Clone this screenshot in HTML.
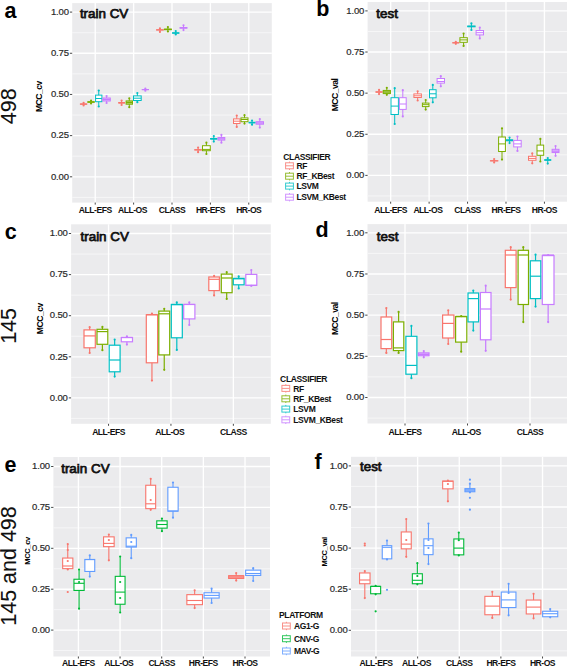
<!DOCTYPE html><html><head><meta charset="utf-8"><style>
html,body{margin:0;padding:0;background:#fff;width:567px;height:667px;overflow:hidden}
svg{display:block;font-family:"Liberation Sans", sans-serif}
.tl{font-size:9.5px;fill:#2a2a2a;stroke:#2a2a2a;stroke-width:0.2px;letter-spacing:-0.15px;text-anchor:end}
.xl{font-size:8.6px;font-weight:bold;fill:#111;letter-spacing:-0.5px;text-anchor:middle}
.ttl{font-size:13.4px;fill:#111;stroke:#111;stroke-width:0.75px}
.let{font-size:21.5px;font-weight:bold;fill:#000}
.row{font-size:21.5px;fill:#111;stroke:#111;stroke-width:0.1px}
.yt{font-size:8.6px;font-weight:bold;fill:#000;letter-spacing:-0.5px;text-anchor:middle}
.yt2{font-size:7.6px;font-weight:bold;fill:#000;letter-spacing:-0.4px;text-anchor:middle}
.lgt{font-size:8.5px;font-weight:bold;fill:#111;letter-spacing:-0.35px}
.lgx{font-size:8.5px;font-weight:bold;fill:#111;letter-spacing:-0.35px}
</style></head><body>
<svg width="567" height="667" viewBox="0 0 567 667">
<rect x="72.2" y="3.1" width="199.6" height="199.5" fill="#EBEBED"/>
<line x1="72.2" x2="271.8" y1="197.39" y2="197.39" stroke="#F6F6F7" stroke-width="1.0"/>
<line x1="72.2" x2="271.8" y1="156.21" y2="156.21" stroke="#F6F6F7" stroke-width="1.0"/>
<line x1="72.2" x2="271.8" y1="115.04" y2="115.04" stroke="#F6F6F7" stroke-width="1.0"/>
<line x1="72.2" x2="271.8" y1="73.86" y2="73.86" stroke="#F6F6F7" stroke-width="1.0"/>
<line x1="72.2" x2="271.8" y1="32.69" y2="32.69" stroke="#F6F6F7" stroke-width="1.0"/>
<line x1="72.2" x2="271.8" y1="176.8" y2="176.8" stroke="#FFFFFF" stroke-width="1.35"/>
<line x1="72.2" x2="271.8" y1="135.62" y2="135.62" stroke="#FFFFFF" stroke-width="1.35"/>
<line x1="72.2" x2="271.8" y1="94.45" y2="94.45" stroke="#FFFFFF" stroke-width="1.35"/>
<line x1="72.2" x2="271.8" y1="53.28" y2="53.28" stroke="#FFFFFF" stroke-width="1.35"/>
<line x1="72.2" x2="271.8" y1="12.1" y2="12.1" stroke="#FFFFFF" stroke-width="1.35"/>
<line x1="95.23" x2="95.23" y1="3.1" y2="202.6" stroke="#FFFFFF" stroke-width="1.35"/>
<line x1="133.62" x2="133.62" y1="3.1" y2="202.6" stroke="#FFFFFF" stroke-width="1.35"/>
<line x1="172" x2="172" y1="3.1" y2="202.6" stroke="#FFFFFF" stroke-width="1.35"/>
<line x1="210.38" x2="210.38" y1="3.1" y2="202.6" stroke="#FFFFFF" stroke-width="1.35"/>
<line x1="248.77" x2="248.77" y1="3.1" y2="202.6" stroke="#FFFFFF" stroke-width="1.35"/>
<line x1="69.9" x2="72.2" y1="176.8" y2="176.8" stroke="#333" stroke-width="0.9"/>
<text x="68.8" y="179.5" class="tl">0.00</text>
<line x1="69.9" x2="72.2" y1="135.62" y2="135.62" stroke="#333" stroke-width="0.9"/>
<text x="68.8" y="138.32" class="tl">0.25</text>
<line x1="69.9" x2="72.2" y1="94.45" y2="94.45" stroke="#333" stroke-width="0.9"/>
<text x="68.8" y="97.15" class="tl">0.50</text>
<line x1="69.9" x2="72.2" y1="53.28" y2="53.28" stroke="#333" stroke-width="0.9"/>
<text x="68.8" y="55.98" class="tl">0.75</text>
<line x1="69.9" x2="72.2" y1="12.1" y2="12.1" stroke="#333" stroke-width="0.9"/>
<text x="68.8" y="14.8" class="tl">1.00</text>
<line x1="95.23" x2="95.23" y1="202.6" y2="204.6" stroke="#333" stroke-width="0.9"/>
<text x="95.23" y="212.9" class="xl">ALL-EFS</text>
<line x1="133.62" x2="133.62" y1="202.6" y2="204.6" stroke="#333" stroke-width="0.9"/>
<text x="132.42" y="212.9" class="xl">ALL-OS</text>
<line x1="172" x2="172" y1="202.6" y2="204.6" stroke="#333" stroke-width="0.9"/>
<text x="172" y="212.9" class="xl">CLASS</text>
<line x1="210.38" x2="210.38" y1="202.6" y2="204.6" stroke="#333" stroke-width="0.9"/>
<text x="210.38" y="212.9" class="xl">HR-EFS</text>
<line x1="248.77" x2="248.77" y1="202.6" y2="204.6" stroke="#333" stroke-width="0.9"/>
<text x="248.77" y="212.9" class="xl">HR-OS</text>
<rect x="367.6" y="2" width="199.9" height="199.7" fill="#EBEBED"/>
<line x1="367.6" x2="567.5" y1="195.96" y2="195.96" stroke="#F6F6F7" stroke-width="1.0"/>
<line x1="367.6" x2="567.5" y1="154.84" y2="154.84" stroke="#F6F6F7" stroke-width="1.0"/>
<line x1="367.6" x2="567.5" y1="113.71" y2="113.71" stroke="#F6F6F7" stroke-width="1.0"/>
<line x1="367.6" x2="567.5" y1="72.59" y2="72.59" stroke="#F6F6F7" stroke-width="1.0"/>
<line x1="367.6" x2="567.5" y1="31.46" y2="31.46" stroke="#F6F6F7" stroke-width="1.0"/>
<line x1="367.6" x2="567.5" y1="175.4" y2="175.4" stroke="#FFFFFF" stroke-width="1.35"/>
<line x1="367.6" x2="567.5" y1="134.28" y2="134.28" stroke="#FFFFFF" stroke-width="1.35"/>
<line x1="367.6" x2="567.5" y1="93.15" y2="93.15" stroke="#FFFFFF" stroke-width="1.35"/>
<line x1="367.6" x2="567.5" y1="52.03" y2="52.03" stroke="#FFFFFF" stroke-width="1.35"/>
<line x1="367.6" x2="567.5" y1="10.9" y2="10.9" stroke="#FFFFFF" stroke-width="1.35"/>
<line x1="390.67" x2="390.67" y1="2" y2="201.7" stroke="#FFFFFF" stroke-width="1.35"/>
<line x1="429.11" x2="429.11" y1="2" y2="201.7" stroke="#FFFFFF" stroke-width="1.35"/>
<line x1="467.55" x2="467.55" y1="2" y2="201.7" stroke="#FFFFFF" stroke-width="1.35"/>
<line x1="505.99" x2="505.99" y1="2" y2="201.7" stroke="#FFFFFF" stroke-width="1.35"/>
<line x1="544.43" x2="544.43" y1="2" y2="201.7" stroke="#FFFFFF" stroke-width="1.35"/>
<line x1="365.3" x2="367.6" y1="175.4" y2="175.4" stroke="#333" stroke-width="0.9"/>
<text x="364.2" y="178.1" class="tl">0.00</text>
<line x1="365.3" x2="367.6" y1="134.28" y2="134.28" stroke="#333" stroke-width="0.9"/>
<text x="364.2" y="136.97" class="tl">0.25</text>
<line x1="365.3" x2="367.6" y1="93.15" y2="93.15" stroke="#333" stroke-width="0.9"/>
<text x="364.2" y="95.85" class="tl">0.50</text>
<line x1="365.3" x2="367.6" y1="52.03" y2="52.03" stroke="#333" stroke-width="0.9"/>
<text x="364.2" y="54.73" class="tl">0.75</text>
<line x1="365.3" x2="367.6" y1="10.9" y2="10.9" stroke="#333" stroke-width="0.9"/>
<text x="364.2" y="13.6" class="tl">1.00</text>
<line x1="390.67" x2="390.67" y1="201.7" y2="203.7" stroke="#333" stroke-width="0.9"/>
<text x="390.67" y="212.9" class="xl">ALL-EFS</text>
<line x1="429.11" x2="429.11" y1="201.7" y2="203.7" stroke="#333" stroke-width="0.9"/>
<text x="427.91" y="212.9" class="xl">ALL-OS</text>
<line x1="467.55" x2="467.55" y1="201.7" y2="203.7" stroke="#333" stroke-width="0.9"/>
<text x="467.55" y="212.9" class="xl">CLASS</text>
<line x1="505.99" x2="505.99" y1="201.7" y2="203.7" stroke="#333" stroke-width="0.9"/>
<text x="505.99" y="212.9" class="xl">HR-EFS</text>
<line x1="544.43" x2="544.43" y1="201.7" y2="203.7" stroke="#333" stroke-width="0.9"/>
<text x="544.43" y="212.9" class="xl">HR-OS</text>
<rect x="71.1" y="224.3" width="199.7" height="199.5" fill="#EBEBED"/>
<line x1="71.1" x2="270.8" y1="418.45" y2="418.45" stroke="#F6F6F7" stroke-width="1.0"/>
<line x1="71.1" x2="270.8" y1="377.35" y2="377.35" stroke="#F6F6F7" stroke-width="1.0"/>
<line x1="71.1" x2="270.8" y1="336.25" y2="336.25" stroke="#F6F6F7" stroke-width="1.0"/>
<line x1="71.1" x2="270.8" y1="295.15" y2="295.15" stroke="#F6F6F7" stroke-width="1.0"/>
<line x1="71.1" x2="270.8" y1="254.05" y2="254.05" stroke="#F6F6F7" stroke-width="1.0"/>
<line x1="71.1" x2="270.8" y1="397.9" y2="397.9" stroke="#FFFFFF" stroke-width="1.35"/>
<line x1="71.1" x2="270.8" y1="356.8" y2="356.8" stroke="#FFFFFF" stroke-width="1.35"/>
<line x1="71.1" x2="270.8" y1="315.7" y2="315.7" stroke="#FFFFFF" stroke-width="1.35"/>
<line x1="71.1" x2="270.8" y1="274.6" y2="274.6" stroke="#FFFFFF" stroke-width="1.35"/>
<line x1="71.1" x2="270.8" y1="233.5" y2="233.5" stroke="#FFFFFF" stroke-width="1.35"/>
<line x1="108.54" x2="108.54" y1="224.3" y2="423.8" stroke="#FFFFFF" stroke-width="1.35"/>
<line x1="170.95" x2="170.95" y1="224.3" y2="423.8" stroke="#FFFFFF" stroke-width="1.35"/>
<line x1="233.36" x2="233.36" y1="224.3" y2="423.8" stroke="#FFFFFF" stroke-width="1.35"/>
<line x1="68.8" x2="71.1" y1="397.9" y2="397.9" stroke="#333" stroke-width="0.9"/>
<text x="67.7" y="400.6" class="tl">0.00</text>
<line x1="68.8" x2="71.1" y1="356.8" y2="356.8" stroke="#333" stroke-width="0.9"/>
<text x="67.7" y="359.5" class="tl">0.25</text>
<line x1="68.8" x2="71.1" y1="315.7" y2="315.7" stroke="#333" stroke-width="0.9"/>
<text x="67.7" y="318.4" class="tl">0.50</text>
<line x1="68.8" x2="71.1" y1="274.6" y2="274.6" stroke="#333" stroke-width="0.9"/>
<text x="67.7" y="277.3" class="tl">0.75</text>
<line x1="68.8" x2="71.1" y1="233.5" y2="233.5" stroke="#333" stroke-width="0.9"/>
<text x="67.7" y="236.2" class="tl">1.00</text>
<line x1="108.54" x2="108.54" y1="423.8" y2="425.8" stroke="#333" stroke-width="0.9"/>
<text x="108.54" y="435.2" class="xl">ALL-EFS</text>
<line x1="170.95" x2="170.95" y1="423.8" y2="425.8" stroke="#333" stroke-width="0.9"/>
<text x="169.75" y="435.2" class="xl">ALL-OS</text>
<line x1="233.36" x2="233.36" y1="423.8" y2="425.8" stroke="#333" stroke-width="0.9"/>
<text x="233.36" y="435.2" class="xl">CLASS</text>
<rect x="367.5" y="224.1" width="200" height="199.4" fill="#EBEBED"/>
<line x1="367.5" x2="567.5" y1="418.09" y2="418.09" stroke="#F6F6F7" stroke-width="1.0"/>
<line x1="367.5" x2="567.5" y1="376.91" y2="376.91" stroke="#F6F6F7" stroke-width="1.0"/>
<line x1="367.5" x2="567.5" y1="335.74" y2="335.74" stroke="#F6F6F7" stroke-width="1.0"/>
<line x1="367.5" x2="567.5" y1="294.56" y2="294.56" stroke="#F6F6F7" stroke-width="1.0"/>
<line x1="367.5" x2="567.5" y1="253.39" y2="253.39" stroke="#F6F6F7" stroke-width="1.0"/>
<line x1="367.5" x2="567.5" y1="397.5" y2="397.5" stroke="#FFFFFF" stroke-width="1.35"/>
<line x1="367.5" x2="567.5" y1="356.32" y2="356.32" stroke="#FFFFFF" stroke-width="1.35"/>
<line x1="367.5" x2="567.5" y1="315.15" y2="315.15" stroke="#FFFFFF" stroke-width="1.35"/>
<line x1="367.5" x2="567.5" y1="273.98" y2="273.98" stroke="#FFFFFF" stroke-width="1.35"/>
<line x1="367.5" x2="567.5" y1="232.8" y2="232.8" stroke="#FFFFFF" stroke-width="1.35"/>
<line x1="405" x2="405" y1="224.1" y2="423.5" stroke="#FFFFFF" stroke-width="1.35"/>
<line x1="467.5" x2="467.5" y1="224.1" y2="423.5" stroke="#FFFFFF" stroke-width="1.35"/>
<line x1="530" x2="530" y1="224.1" y2="423.5" stroke="#FFFFFF" stroke-width="1.35"/>
<line x1="365.2" x2="367.5" y1="397.5" y2="397.5" stroke="#333" stroke-width="0.9"/>
<text x="364.1" y="400.2" class="tl">0.00</text>
<line x1="365.2" x2="367.5" y1="356.32" y2="356.32" stroke="#333" stroke-width="0.9"/>
<text x="364.1" y="359.02" class="tl">0.25</text>
<line x1="365.2" x2="367.5" y1="315.15" y2="315.15" stroke="#333" stroke-width="0.9"/>
<text x="364.1" y="317.85" class="tl">0.50</text>
<line x1="365.2" x2="367.5" y1="273.98" y2="273.98" stroke="#333" stroke-width="0.9"/>
<text x="364.1" y="276.68" class="tl">0.75</text>
<line x1="365.2" x2="367.5" y1="232.8" y2="232.8" stroke="#333" stroke-width="0.9"/>
<text x="364.1" y="235.5" class="tl">1.00</text>
<line x1="405" x2="405" y1="423.5" y2="425.5" stroke="#333" stroke-width="0.9"/>
<text x="405" y="435.2" class="xl">ALL-EFS</text>
<line x1="467.5" x2="467.5" y1="423.5" y2="425.5" stroke="#333" stroke-width="0.9"/>
<text x="466.3" y="435.2" class="xl">ALL-OS</text>
<line x1="530" x2="530" y1="423.5" y2="425.5" stroke="#333" stroke-width="0.9"/>
<text x="530" y="435.2" class="xl">CLASS</text>
<rect x="53.4" y="457" width="216.6" height="199.5" fill="#EBEBED"/>
<line x1="53.4" x2="270" y1="650.55" y2="650.55" stroke="#F6F6F7" stroke-width="1.0"/>
<line x1="53.4" x2="270" y1="609.65" y2="609.65" stroke="#F6F6F7" stroke-width="1.0"/>
<line x1="53.4" x2="270" y1="568.75" y2="568.75" stroke="#F6F6F7" stroke-width="1.0"/>
<line x1="53.4" x2="270" y1="527.85" y2="527.85" stroke="#F6F6F7" stroke-width="1.0"/>
<line x1="53.4" x2="270" y1="486.95" y2="486.95" stroke="#F6F6F7" stroke-width="1.0"/>
<line x1="53.4" x2="270" y1="630.1" y2="630.1" stroke="#FFFFFF" stroke-width="1.35"/>
<line x1="53.4" x2="270" y1="589.2" y2="589.2" stroke="#FFFFFF" stroke-width="1.35"/>
<line x1="53.4" x2="270" y1="548.3" y2="548.3" stroke="#FFFFFF" stroke-width="1.35"/>
<line x1="53.4" x2="270" y1="507.4" y2="507.4" stroke="#FFFFFF" stroke-width="1.35"/>
<line x1="53.4" x2="270" y1="466.5" y2="466.5" stroke="#FFFFFF" stroke-width="1.35"/>
<line x1="78.39" x2="78.39" y1="457" y2="656.5" stroke="#FFFFFF" stroke-width="1.35"/>
<line x1="120.05" x2="120.05" y1="457" y2="656.5" stroke="#FFFFFF" stroke-width="1.35"/>
<line x1="161.7" x2="161.7" y1="457" y2="656.5" stroke="#FFFFFF" stroke-width="1.35"/>
<line x1="203.35" x2="203.35" y1="457" y2="656.5" stroke="#FFFFFF" stroke-width="1.35"/>
<line x1="245.01" x2="245.01" y1="457" y2="656.5" stroke="#FFFFFF" stroke-width="1.35"/>
<line x1="51.1" x2="53.4" y1="630.1" y2="630.1" stroke="#333" stroke-width="0.9"/>
<text x="50" y="632.8" class="tl">0.00</text>
<line x1="51.1" x2="53.4" y1="589.2" y2="589.2" stroke="#333" stroke-width="0.9"/>
<text x="50" y="591.9" class="tl">0.25</text>
<line x1="51.1" x2="53.4" y1="548.3" y2="548.3" stroke="#333" stroke-width="0.9"/>
<text x="50" y="551" class="tl">0.50</text>
<line x1="51.1" x2="53.4" y1="507.4" y2="507.4" stroke="#333" stroke-width="0.9"/>
<text x="50" y="510.1" class="tl">0.75</text>
<line x1="51.1" x2="53.4" y1="466.5" y2="466.5" stroke="#333" stroke-width="0.9"/>
<text x="50" y="469.2" class="tl">1.00</text>
<line x1="78.39" x2="78.39" y1="656.5" y2="658.5" stroke="#333" stroke-width="0.9"/>
<text x="78.39" y="666.2" class="xl">ALL-EFS</text>
<line x1="120.05" x2="120.05" y1="656.5" y2="658.5" stroke="#333" stroke-width="0.9"/>
<text x="118.85" y="666.2" class="xl">ALL-OS</text>
<line x1="161.7" x2="161.7" y1="656.5" y2="658.5" stroke="#333" stroke-width="0.9"/>
<text x="161.7" y="666.2" class="xl">CLASS</text>
<line x1="203.35" x2="203.35" y1="656.5" y2="658.5" stroke="#333" stroke-width="0.9"/>
<text x="203.35" y="666.2" class="xl">HR-EFS</text>
<line x1="245.01" x2="245.01" y1="656.5" y2="658.5" stroke="#333" stroke-width="0.9"/>
<text x="245.01" y="666.2" class="xl">HR-OS</text>
<rect x="351" y="456.8" width="216.5" height="199.7" fill="#EBEBED"/>
<line x1="351" x2="567.5" y1="650.85" y2="650.85" stroke="#F6F6F7" stroke-width="1.0"/>
<line x1="351" x2="567.5" y1="609.75" y2="609.75" stroke="#F6F6F7" stroke-width="1.0"/>
<line x1="351" x2="567.5" y1="568.65" y2="568.65" stroke="#F6F6F7" stroke-width="1.0"/>
<line x1="351" x2="567.5" y1="527.55" y2="527.55" stroke="#F6F6F7" stroke-width="1.0"/>
<line x1="351" x2="567.5" y1="486.45" y2="486.45" stroke="#F6F6F7" stroke-width="1.0"/>
<line x1="351" x2="567.5" y1="630.3" y2="630.3" stroke="#FFFFFF" stroke-width="1.35"/>
<line x1="351" x2="567.5" y1="589.2" y2="589.2" stroke="#FFFFFF" stroke-width="1.35"/>
<line x1="351" x2="567.5" y1="548.1" y2="548.1" stroke="#FFFFFF" stroke-width="1.35"/>
<line x1="351" x2="567.5" y1="507" y2="507" stroke="#FFFFFF" stroke-width="1.35"/>
<line x1="351" x2="567.5" y1="465.9" y2="465.9" stroke="#FFFFFF" stroke-width="1.35"/>
<line x1="375.98" x2="375.98" y1="456.8" y2="656.5" stroke="#FFFFFF" stroke-width="1.35"/>
<line x1="417.62" x2="417.62" y1="456.8" y2="656.5" stroke="#FFFFFF" stroke-width="1.35"/>
<line x1="459.25" x2="459.25" y1="456.8" y2="656.5" stroke="#FFFFFF" stroke-width="1.35"/>
<line x1="500.88" x2="500.88" y1="456.8" y2="656.5" stroke="#FFFFFF" stroke-width="1.35"/>
<line x1="542.52" x2="542.52" y1="456.8" y2="656.5" stroke="#FFFFFF" stroke-width="1.35"/>
<line x1="348.7" x2="351" y1="630.3" y2="630.3" stroke="#333" stroke-width="0.9"/>
<text x="347.6" y="633" class="tl">0.00</text>
<line x1="348.7" x2="351" y1="589.2" y2="589.2" stroke="#333" stroke-width="0.9"/>
<text x="347.6" y="591.9" class="tl">0.25</text>
<line x1="348.7" x2="351" y1="548.1" y2="548.1" stroke="#333" stroke-width="0.9"/>
<text x="347.6" y="550.8" class="tl">0.50</text>
<line x1="348.7" x2="351" y1="507" y2="507" stroke="#333" stroke-width="0.9"/>
<text x="347.6" y="509.7" class="tl">0.75</text>
<line x1="348.7" x2="351" y1="465.9" y2="465.9" stroke="#333" stroke-width="0.9"/>
<text x="347.6" y="468.6" class="tl">1.00</text>
<line x1="375.98" x2="375.98" y1="656.5" y2="658.5" stroke="#333" stroke-width="0.9"/>
<text x="375.98" y="666.2" class="xl">ALL-EFS</text>
<line x1="417.62" x2="417.62" y1="656.5" y2="658.5" stroke="#333" stroke-width="0.9"/>
<text x="416.42" y="666.2" class="xl">ALL-OS</text>
<line x1="459.25" x2="459.25" y1="656.5" y2="658.5" stroke="#333" stroke-width="0.9"/>
<text x="459.25" y="666.2" class="xl">CLASS</text>
<line x1="500.88" x2="500.88" y1="656.5" y2="658.5" stroke="#333" stroke-width="0.9"/>
<text x="500.88" y="666.2" class="xl">HR-EFS</text>
<line x1="542.52" x2="542.52" y1="656.5" y2="658.5" stroke="#333" stroke-width="0.9"/>
<text x="542.52" y="666.2" class="xl">HR-OS</text>
<g stroke="#F8766D" stroke-width="1.0" fill="#fbb3ae">
<line x1="83.6" x2="83.6" y1="102.8" y2="105.5"/>
<rect x="80.4" y="103.9" width="6.4" height="0.4"/>
<line x1="80.4" x2="86.8" y1="104.1" y2="104.1"/>
</g>
<circle cx="83.6" cy="102.8" r="1.1" fill="#F8766D"/>
<circle cx="83.6" cy="105.5" r="1.1" fill="#F8766D"/>
<g stroke="#7CAE00" stroke-width="1.0" fill="#b6d272">
<line x1="91.05" x2="91.05" y1="100.5" y2="103.5"/>
<rect x="87.8" y="101.7" width="6.5" height="0.6"/>
<line x1="87.8" x2="94.3" y1="102" y2="102"/>
</g>
<circle cx="91.05" cy="100.5" r="1.1" fill="#7CAE00"/>
<circle cx="91.05" cy="103.5" r="1.1" fill="#7CAE00"/>
<g stroke="#00BFC4" stroke-width="1.0" fill="#fff">
<line x1="98.75" x2="98.75" y1="90.5" y2="106.5"/>
<rect x="95.6" y="95.1" width="6.3" height="6.6"/>
<line x1="95.6" x2="101.9" y1="98.5" y2="98.5"/>
</g>
<circle cx="98.75" cy="90.5" r="1.1" fill="#00BFC4"/>
<circle cx="98.75" cy="106.5" r="1.1" fill="#00BFC4"/>
<g stroke="#C77CFF" stroke-width="1.0" fill="#e0b6ff">
<line x1="106.6" x2="106.6" y1="96" y2="103"/>
<rect x="102.9" y="98" width="7.4" height="3"/>
<line x1="102.9" x2="110.3" y1="99.5" y2="99.5"/>
</g>
<circle cx="106.6" cy="96" r="1.1" fill="#C77CFF"/>
<circle cx="106.6" cy="103" r="1.1" fill="#C77CFF"/>
<g stroke="#F8766D" stroke-width="1.0" fill="#fbb3ae">
<line x1="121.6" x2="121.6" y1="100.5" y2="105"/>
<rect x="118.7" y="102.5" width="5.8" height="0.6"/>
<line x1="118.7" x2="124.5" y1="102.8" y2="102.8"/>
</g>
<circle cx="121.6" cy="100.5" r="1.1" fill="#F8766D"/>
<circle cx="121.6" cy="105" r="1.1" fill="#F8766D"/>
<g stroke="#7CAE00" stroke-width="1.0" fill="#b6d272">
<line x1="129.3" x2="129.3" y1="98.3" y2="107.2"/>
<rect x="126.1" y="100.9" width="6.4" height="3.3"/>
<line x1="126.1" x2="132.5" y1="102.5" y2="102.5"/>
</g>
<circle cx="129.3" cy="98.3" r="1.1" fill="#7CAE00"/>
<circle cx="129.3" cy="107.2" r="1.1" fill="#7CAE00"/>
<g stroke="#00BFC4" stroke-width="1.0" fill="#fff">
<line x1="137.35" x2="137.35" y1="93" y2="102.2"/>
<rect x="133.5" y="95.9" width="7.7" height="4.6"/>
<line x1="133.5" x2="141.2" y1="98.2" y2="98.2"/>
</g>
<circle cx="137.35" cy="93" r="1.1" fill="#00BFC4"/>
<circle cx="137.35" cy="102.2" r="1.1" fill="#00BFC4"/>
<g stroke="#C77CFF" stroke-width="1.0" fill="#e0b6ff">
<line x1="145.35" x2="145.35" y1="88.5" y2="90.7"/>
<rect x="142.2" y="89.5" width="6.3" height="0.2"/>
<line x1="142.2" x2="148.5" y1="89.6" y2="89.6"/>
</g>
<circle cx="145.35" cy="88.5" r="1.1" fill="#C77CFF"/>
<circle cx="145.35" cy="90.7" r="1.1" fill="#C77CFF"/>
<g stroke="#F8766D" stroke-width="1.0" fill="#fbb3ae">
<line x1="159.95" x2="159.95" y1="28.4" y2="31.9"/>
<rect x="156.5" y="29.8" width="6.9" height="0.2"/>
<line x1="156.5" x2="163.4" y1="29.9" y2="29.9"/>
</g>
<circle cx="159.95" cy="28.4" r="1.1" fill="#F8766D"/>
<circle cx="159.95" cy="31.9" r="1.1" fill="#F8766D"/>
<g stroke="#7CAE00" stroke-width="1.0" fill="#b6d272">
<line x1="167.9" x2="167.9" y1="27" y2="31.5"/>
<rect x="164.4" y="29.1" width="7" height="0.6"/>
<line x1="164.4" x2="171.4" y1="29.3" y2="29.3"/>
</g>
<circle cx="167.9" cy="27" r="1.1" fill="#7CAE00"/>
<circle cx="167.9" cy="31.5" r="1.1" fill="#7CAE00"/>
<g stroke="#00BFC4" stroke-width="1.0" fill="#72dbde">
<line x1="175.75" x2="175.75" y1="31" y2="34.5"/>
<rect x="172.5" y="32.8" width="6.5" height="0.4"/>
<line x1="172.5" x2="179" y1="33" y2="33"/>
</g>
<circle cx="175.75" cy="31" r="1.1" fill="#00BFC4"/>
<circle cx="175.75" cy="34.5" r="1.1" fill="#00BFC4"/>
<g stroke="#C77CFF" stroke-width="1.0" fill="#e0b6ff">
<line x1="183.5" x2="183.5" y1="25.3" y2="30.1"/>
<rect x="180" y="27.5" width="7" height="0.7"/>
<line x1="180" x2="187" y1="27.8" y2="27.8"/>
</g>
<circle cx="183.5" cy="25.3" r="1.1" fill="#C77CFF"/>
<circle cx="183.5" cy="30.1" r="1.1" fill="#C77CFF"/>
<g stroke="#F8766D" stroke-width="1.0" fill="#fbb3ae">
<line x1="198.1" x2="198.1" y1="147.6" y2="152.2"/>
<rect x="194.7" y="149.7" width="6.8" height="0.3"/>
<line x1="194.7" x2="201.5" y1="149.8" y2="149.8"/>
</g>
<circle cx="198.1" cy="147.6" r="1.1" fill="#F8766D"/>
<circle cx="198.1" cy="152.2" r="1.1" fill="#F8766D"/>
<g stroke="#7CAE00" stroke-width="1.0" fill="#fff">
<line x1="206.4" x2="206.4" y1="142.7" y2="154"/>
<rect x="202.5" y="145.7" width="7.8" height="5"/>
<line x1="202.5" x2="210.3" y1="149.4" y2="149.4"/>
</g>
<circle cx="206.4" cy="142.7" r="1.1" fill="#7CAE00"/>
<circle cx="206.4" cy="154" r="1.1" fill="#7CAE00"/>
<g stroke="#00BFC4" stroke-width="1.0" fill="#72dbde">
<line x1="213.8" x2="213.8" y1="136" y2="141.6"/>
<rect x="210.6" y="138.5" width="6.4" height="0.6"/>
<line x1="210.6" x2="217" y1="138.8" y2="138.8"/>
</g>
<circle cx="213.8" cy="136" r="1.1" fill="#00BFC4"/>
<circle cx="213.8" cy="141.6" r="1.1" fill="#00BFC4"/>
<g stroke="#C77CFF" stroke-width="1.0" fill="#e0b6ff">
<line x1="221.4" x2="221.4" y1="134.9" y2="142.7"/>
<rect x="218" y="137.5" width="6.8" height="2.6"/>
<line x1="218" x2="224.8" y1="138.8" y2="138.8"/>
</g>
<circle cx="221.4" cy="134.9" r="1.1" fill="#C77CFF"/>
<circle cx="221.4" cy="142.7" r="1.1" fill="#C77CFF"/>
<g stroke="#F8766D" stroke-width="1.0" fill="#fff">
<line x1="236.75" x2="236.75" y1="115.6" y2="126.9"/>
<rect x="233.5" y="118.9" width="6.5" height="4.6"/>
<line x1="233.5" x2="240" y1="121.2" y2="121.2"/>
</g>
<circle cx="236.75" cy="115.6" r="1.1" fill="#F8766D"/>
<circle cx="236.75" cy="126.9" r="1.1" fill="#F8766D"/>
<g stroke="#7CAE00" stroke-width="1.0" fill="#fff">
<line x1="244.5" x2="244.5" y1="115.2" y2="123.6"/>
<rect x="241" y="117.9" width="7" height="3.8"/>
<line x1="241" x2="248" y1="119.5" y2="119.5"/>
</g>
<circle cx="244.5" cy="115.2" r="1.1" fill="#7CAE00"/>
<circle cx="244.5" cy="123.6" r="1.1" fill="#7CAE00"/>
<g stroke="#00BFC4" stroke-width="1.0" fill="#72dbde">
<line x1="252.05" x2="252.05" y1="120.5" y2="124.7"/>
<rect x="249" y="122.3" width="6.1" height="0.6"/>
<line x1="249" x2="255.1" y1="122.6" y2="122.6"/>
</g>
<circle cx="252.05" cy="120.5" r="1.1" fill="#00BFC4"/>
<circle cx="252.05" cy="124.7" r="1.1" fill="#00BFC4"/>
<g stroke="#C77CFF" stroke-width="1.0" fill="#e0b6ff">
<line x1="259.8" x2="259.8" y1="119.1" y2="127.6"/>
<rect x="256.1" y="121.7" width="7.4" height="2.5"/>
<line x1="256.1" x2="263.5" y1="123" y2="123"/>
</g>
<circle cx="259.8" cy="119.1" r="1.1" fill="#C77CFF"/>
<circle cx="259.8" cy="127.6" r="1.1" fill="#C77CFF"/>
<g stroke="#F8766D" stroke-width="1.0" fill="#fbb3ae">
<line x1="379.05" x2="379.05" y1="89.9" y2="94.1"/>
<rect x="375.9" y="91.8" width="6.3" height="0.4"/>
<line x1="375.9" x2="382.2" y1="92" y2="92"/>
</g>
<circle cx="379.05" cy="89.9" r="1.1" fill="#F8766D"/>
<circle cx="379.05" cy="94.1" r="1.1" fill="#F8766D"/>
<g stroke="#7CAE00" stroke-width="1.0" fill="#b6d272">
<line x1="386.8" x2="386.8" y1="87.8" y2="94.8"/>
<rect x="383.2" y="90.4" width="7.2" height="3.2"/>
<line x1="383.2" x2="390.4" y1="92" y2="92"/>
</g>
<circle cx="386.8" cy="87.8" r="1.1" fill="#7CAE00"/>
<circle cx="386.8" cy="94.8" r="1.1" fill="#7CAE00"/>
<g stroke="#00BFC4" stroke-width="1.0" fill="#fff">
<line x1="394.7" x2="394.7" y1="88.2" y2="124"/>
<rect x="391" y="97.7" width="7.4" height="16.8"/>
<line x1="391" x2="398.4" y1="106.1" y2="106.1"/>
</g>
<circle cx="394.7" cy="88.2" r="1.1" fill="#00BFC4"/>
<circle cx="394.7" cy="124" r="1.1" fill="#00BFC4"/>
<g stroke="#C77CFF" stroke-width="1.0" fill="#fff">
<line x1="402.8" x2="402.8" y1="90.2" y2="116.4"/>
<rect x="399.4" y="97.7" width="6.8" height="11.7"/>
<line x1="399.4" x2="406.2" y1="104" y2="104"/>
</g>
<circle cx="402.8" cy="90.2" r="1.1" fill="#C77CFF"/>
<circle cx="402.8" cy="116.4" r="1.1" fill="#C77CFF"/>
<g stroke="#F8766D" stroke-width="1.0" fill="#fff">
<line x1="417.65" x2="417.65" y1="91.3" y2="100.5"/>
<rect x="413.9" y="93.9" width="7.5" height="3.6"/>
<line x1="413.9" x2="421.4" y1="95.8" y2="95.8"/>
</g>
<circle cx="417.65" cy="91.3" r="1.1" fill="#F8766D"/>
<circle cx="417.65" cy="100.5" r="1.1" fill="#F8766D"/>
<g stroke="#7CAE00" stroke-width="1.0" fill="#fff">
<line x1="425.7" x2="425.7" y1="100" y2="109.6"/>
<rect x="422.4" y="103.1" width="6.6" height="3.5"/>
<line x1="422.4" x2="429" y1="104.7" y2="104.7"/>
</g>
<circle cx="425.7" cy="100" r="1.1" fill="#7CAE00"/>
<circle cx="425.7" cy="109.6" r="1.1" fill="#7CAE00"/>
<g stroke="#00BFC4" stroke-width="1.0" fill="#fff">
<line x1="432.8" x2="432.8" y1="84.9" y2="102.3"/>
<rect x="429.5" y="89.7" width="6.6" height="8.1"/>
<line x1="429.5" x2="436.1" y1="93.8" y2="93.8"/>
</g>
<circle cx="432.8" cy="84.9" r="1.1" fill="#00BFC4"/>
<circle cx="432.8" cy="102.3" r="1.1" fill="#00BFC4"/>
<g stroke="#C77CFF" stroke-width="1.0" fill="#fff">
<line x1="440.8" x2="440.8" y1="76.2" y2="86.3"/>
<rect x="437.1" y="78.5" width="7.4" height="4.6"/>
<line x1="437.1" x2="444.5" y1="81.5" y2="81.5"/>
</g>
<circle cx="440.8" cy="76.2" r="1.1" fill="#C77CFF"/>
<circle cx="440.8" cy="86.3" r="1.1" fill="#C77CFF"/>
<g stroke="#F8766D" stroke-width="1.0" fill="#fbb3ae">
<line x1="455.8" x2="455.8" y1="41.8" y2="43.8"/>
<rect x="452.7" y="42.7" width="6.2" height="0.2"/>
<line x1="452.7" x2="458.9" y1="42.8" y2="42.8"/>
</g>
<circle cx="455.8" cy="41.8" r="1.1" fill="#F8766D"/>
<circle cx="455.8" cy="43.8" r="1.1" fill="#F8766D"/>
<g stroke="#7CAE00" stroke-width="1.0" fill="#fff">
<line x1="463.6" x2="463.6" y1="33.6" y2="45.9"/>
<rect x="459.9" y="37.7" width="7.4" height="4.6"/>
<line x1="459.9" x2="467.3" y1="39.9" y2="39.9"/>
</g>
<circle cx="463.6" cy="33.6" r="1.1" fill="#7CAE00"/>
<circle cx="463.6" cy="45.9" r="1.1" fill="#7CAE00"/>
<g stroke="#00BFC4" stroke-width="1.0" fill="#72dbde">
<line x1="471.4" x2="471.4" y1="23.4" y2="30"/>
<rect x="467.7" y="26" width="7.4" height="0.8"/>
<line x1="467.7" x2="475.1" y1="26.4" y2="26.4"/>
</g>
<circle cx="471.4" cy="23.4" r="1.1" fill="#00BFC4"/>
<circle cx="471.4" cy="30" r="1.1" fill="#00BFC4"/>
<g stroke="#C77CFF" stroke-width="1.0" fill="#fff">
<line x1="479.8" x2="479.8" y1="27.6" y2="38.4"/>
<rect x="476.1" y="30.5" width="7.4" height="4.4"/>
<line x1="476.1" x2="483.5" y1="32.7" y2="32.7"/>
</g>
<circle cx="479.8" cy="27.6" r="1.1" fill="#C77CFF"/>
<circle cx="479.8" cy="38.4" r="1.1" fill="#C77CFF"/>
<g stroke="#F8766D" stroke-width="1.0" fill="#fbb3ae">
<line x1="494.15" x2="494.15" y1="159" y2="162.5"/>
<rect x="490.4" y="160.7" width="7.5" height="0.2"/>
<line x1="490.4" x2="497.9" y1="160.8" y2="160.8"/>
</g>
<circle cx="494.15" cy="159" r="1.1" fill="#F8766D"/>
<circle cx="494.15" cy="162.5" r="1.1" fill="#F8766D"/>
<g stroke="#7CAE00" stroke-width="1.0" fill="#fff">
<line x1="502" x2="502" y1="128.3" y2="159.6"/>
<rect x="498.6" y="137" width="6.8" height="14.5"/>
<line x1="498.6" x2="505.4" y1="143.9" y2="143.9"/>
</g>
<circle cx="502" cy="128.3" r="1.1" fill="#7CAE00"/>
<circle cx="502" cy="159.6" r="1.1" fill="#7CAE00"/>
<g stroke="#00BFC4" stroke-width="1.0" fill="#72dbde">
<line x1="509.55" x2="509.55" y1="137.5" y2="143.1"/>
<rect x="506.4" y="139.8" width="6.3" height="1"/>
<line x1="506.4" x2="512.7" y1="140.3" y2="140.3"/>
</g>
<circle cx="509.55" cy="137.5" r="1.1" fill="#00BFC4"/>
<circle cx="509.55" cy="143.1" r="1.1" fill="#00BFC4"/>
<g stroke="#C77CFF" stroke-width="1.0" fill="#fff">
<line x1="517.45" x2="517.45" y1="136.5" y2="150.9"/>
<rect x="513.7" y="140.4" width="7.5" height="6.5"/>
<line x1="513.7" x2="521.2" y1="143.9" y2="143.9"/>
</g>
<circle cx="517.45" cy="136.5" r="1.1" fill="#C77CFF"/>
<circle cx="517.45" cy="150.9" r="1.1" fill="#C77CFF"/>
<g stroke="#F8766D" stroke-width="1.0" fill="#fff">
<line x1="532.25" x2="532.25" y1="153.4" y2="163.3"/>
<rect x="528.5" y="156.3" width="7.5" height="4"/>
<line x1="528.5" x2="536" y1="158.4" y2="158.4"/>
</g>
<circle cx="532.25" cy="153.4" r="1.1" fill="#F8766D"/>
<circle cx="532.25" cy="163.3" r="1.1" fill="#F8766D"/>
<g stroke="#7CAE00" stroke-width="1.0" fill="#fff">
<line x1="540.35" x2="540.35" y1="138.9" y2="161.5"/>
<rect x="537" y="145.1" width="6.7" height="10.2"/>
<line x1="537" x2="543.7" y1="150.9" y2="150.9"/>
</g>
<circle cx="540.35" cy="138.9" r="1.1" fill="#7CAE00"/>
<circle cx="540.35" cy="161.5" r="1.1" fill="#7CAE00"/>
<g stroke="#00BFC4" stroke-width="1.0" fill="#72dbde">
<line x1="547.75" x2="547.75" y1="158" y2="163.6"/>
<rect x="544.7" y="159.7" width="6.1" height="0.6"/>
<line x1="544.7" x2="550.8" y1="160" y2="160"/>
</g>
<circle cx="547.75" cy="158" r="1.1" fill="#00BFC4"/>
<circle cx="547.75" cy="163.6" r="1.1" fill="#00BFC4"/>
<g stroke="#C77CFF" stroke-width="1.0" fill="#e0b6ff">
<line x1="555.55" x2="555.55" y1="146" y2="155.8"/>
<rect x="552.1" y="149.3" width="6.9" height="3.2"/>
<line x1="552.1" x2="559" y1="151.2" y2="151.2"/>
</g>
<circle cx="555.55" cy="146" r="1.1" fill="#C77CFF"/>
<circle cx="555.55" cy="155.8" r="1.1" fill="#C77CFF"/>
<g stroke="#F8766D" stroke-width="1.2" fill="#fff">
<line x1="89.65" x2="89.65" y1="327.2" y2="353"/>
<rect x="84" y="329.9" width="11.3" height="17.9"/>
<line x1="84" x2="95.3" y1="335.9" y2="335.9"/>
</g>
<circle cx="89.65" cy="327.2" r="1.1" fill="#F8766D"/>
<circle cx="89.65" cy="353" r="1.1" fill="#F8766D"/>
<g stroke="#7CAE00" stroke-width="1.2" fill="#fff">
<line x1="102.4" x2="102.4" y1="326.9" y2="350.2"/>
<rect x="97" y="329.3" width="10.8" height="15"/>
<line x1="97" x2="107.8" y1="331.6" y2="331.6"/>
</g>
<circle cx="102.4" cy="326.9" r="1.1" fill="#7CAE00"/>
<circle cx="102.4" cy="350.2" r="1.1" fill="#7CAE00"/>
<g stroke="#00BFC4" stroke-width="1.2" fill="#fff">
<line x1="114.65" x2="114.65" y1="339.6" y2="376.6"/>
<rect x="109.2" y="345.2" width="10.9" height="26.6"/>
<line x1="109.2" x2="120.1" y1="360" y2="360"/>
</g>
<circle cx="114.65" cy="339.6" r="1.1" fill="#00BFC4"/>
<circle cx="114.65" cy="376.6" r="1.1" fill="#00BFC4"/>
<g stroke="#C77CFF" stroke-width="1.2" fill="#fff">
<line x1="126.9" x2="126.9" y1="336.4" y2="344.6"/>
<rect x="121.3" y="337.5" width="11.2" height="4.3"/>
<line x1="121.3" x2="132.5" y1="337.5" y2="337.5"/>
</g>
<circle cx="126.9" cy="336.4" r="1.1" fill="#C77CFF"/>
<circle cx="126.9" cy="344.6" r="1.1" fill="#C77CFF"/>
<g stroke="#F8766D" stroke-width="1.2" fill="#fff">
<line x1="151.95" x2="151.95" y1="313.5" y2="380.6"/>
<rect x="146.3" y="314.8" width="11.3" height="48"/>
<line x1="146.3" x2="157.6" y1="314.6" y2="314.6"/>
</g>
<circle cx="151.95" cy="313.5" r="1.1" fill="#F8766D"/>
<circle cx="151.95" cy="380.6" r="1.1" fill="#F8766D"/>
<g stroke="#7CAE00" stroke-width="1.2" fill="#fff">
<line x1="164.25" x2="164.25" y1="308.8" y2="369.8"/>
<rect x="158.8" y="311.1" width="10.9" height="43.8"/>
<line x1="158.8" x2="169.7" y1="313.8" y2="313.8"/>
</g>
<circle cx="164.25" cy="308.8" r="1.1" fill="#7CAE00"/>
<circle cx="164.25" cy="369.8" r="1.1" fill="#7CAE00"/>
<g stroke="#00BFC4" stroke-width="1.2" fill="#fff">
<line x1="176.8" x2="176.8" y1="302.4" y2="349.9"/>
<rect x="171.3" y="304.4" width="11" height="33.4"/>
<line x1="171.3" x2="182.3" y1="304.7" y2="304.7"/>
</g>
<circle cx="176.8" cy="302.4" r="1.1" fill="#00BFC4"/>
<circle cx="176.8" cy="349.9" r="1.1" fill="#00BFC4"/>
<g stroke="#C77CFF" stroke-width="1.2" fill="#fff">
<line x1="189.3" x2="189.3" y1="302.4" y2="325"/>
<rect x="183.7" y="304.4" width="11.2" height="14.5"/>
<line x1="183.7" x2="194.9" y1="304.5" y2="304.5"/>
</g>
<circle cx="189.3" cy="302.4" r="1.1" fill="#C77CFF"/>
<circle cx="189.3" cy="325" r="1.1" fill="#C77CFF"/>
<g stroke="#F8766D" stroke-width="1.2" fill="#fff">
<line x1="214.1" x2="214.1" y1="275.9" y2="295.4"/>
<rect x="208.8" y="277" width="10.6" height="13.6"/>
<line x1="208.8" x2="219.4" y1="279.3" y2="279.3"/>
</g>
<circle cx="214.1" cy="275.9" r="1.1" fill="#F8766D"/>
<circle cx="214.1" cy="295.4" r="1.1" fill="#F8766D"/>
<g stroke="#7CAE00" stroke-width="1.2" fill="#fff">
<line x1="226.7" x2="226.7" y1="272.2" y2="298.9"/>
<rect x="221.3" y="274.1" width="10.8" height="18.6"/>
<line x1="221.3" x2="232.1" y1="278" y2="278"/>
</g>
<circle cx="226.7" cy="272.2" r="1.1" fill="#7CAE00"/>
<circle cx="226.7" cy="298.9" r="1.1" fill="#7CAE00"/>
<g stroke="#00BFC4" stroke-width="1.2" fill="#fff">
<line x1="238.7" x2="238.7" y1="276.4" y2="288.4"/>
<rect x="233.3" y="278.4" width="10.8" height="6.4"/>
<line x1="233.3" x2="244.1" y1="278.8" y2="278.8"/>
</g>
<circle cx="238.7" cy="276.4" r="1.1" fill="#00BFC4"/>
<circle cx="238.7" cy="288.4" r="1.1" fill="#00BFC4"/>
<g stroke="#C77CFF" stroke-width="1.2" fill="#fff">
<line x1="251.3" x2="251.3" y1="270" y2="285.9"/>
<rect x="245.8" y="274.4" width="11" height="10.9"/>
<line x1="245.8" x2="256.8" y1="285.4" y2="285.4"/>
</g>
<circle cx="251.3" cy="270" r="1.1" fill="#C77CFF"/>
<circle cx="251.3" cy="285.9" r="1.1" fill="#C77CFF"/>
<g stroke="#F8766D" stroke-width="1.2" fill="#fff">
<line x1="386.35" x2="386.35" y1="308.1" y2="352.9"/>
<rect x="381" y="317" width="10.7" height="31.6"/>
<line x1="381" x2="391.7" y1="339.5" y2="339.5"/>
</g>
<circle cx="386.35" cy="308.1" r="1.1" fill="#F8766D"/>
<circle cx="386.35" cy="352.9" r="1.1" fill="#F8766D"/>
<g stroke="#7CAE00" stroke-width="1.2" fill="#fff">
<line x1="398.6" x2="398.6" y1="311.9" y2="352.9"/>
<rect x="393.4" y="321.9" width="10.4" height="28.7"/>
<line x1="393.4" x2="403.8" y1="347.9" y2="347.9"/>
</g>
<circle cx="398.6" cy="311.9" r="1.1" fill="#7CAE00"/>
<circle cx="398.6" cy="352.9" r="1.1" fill="#7CAE00"/>
<g stroke="#00BFC4" stroke-width="1.2" fill="#fff">
<line x1="411.4" x2="411.4" y1="325.9" y2="378.2"/>
<rect x="405.9" y="336.3" width="11" height="37.9"/>
<line x1="405.9" x2="416.9" y1="365.4" y2="365.4"/>
</g>
<circle cx="411.4" cy="325.9" r="1.1" fill="#00BFC4"/>
<circle cx="411.4" cy="378.2" r="1.1" fill="#00BFC4"/>
<g stroke="#C77CFF" stroke-width="1.2" fill="#e0b6ff">
<line x1="423.75" x2="423.75" y1="351" y2="357.3"/>
<rect x="418.5" y="352.9" width="10.5" height="2.9"/>
<line x1="418.5" x2="429" y1="354.5" y2="354.5"/>
</g>
<circle cx="423.75" cy="351" r="1.1" fill="#C77CFF"/>
<circle cx="423.75" cy="357.3" r="1.1" fill="#C77CFF"/>
<g stroke="#F8766D" stroke-width="1.2" fill="#fff">
<line x1="448.25" x2="448.25" y1="310.3" y2="344"/>
<rect x="442.6" y="315" width="11.3" height="23"/>
<line x1="442.6" x2="453.9" y1="323.4" y2="323.4"/>
</g>
<circle cx="448.25" cy="310.3" r="1.1" fill="#F8766D"/>
<circle cx="448.25" cy="344" r="1.1" fill="#F8766D"/>
<g stroke="#7CAE00" stroke-width="1.2" fill="#fff">
<line x1="461.2" x2="461.2" y1="316.1" y2="351.7"/>
<rect x="455.6" y="316.7" width="11.2" height="25.4"/>
<line x1="455.6" x2="466.8" y1="316.4" y2="316.4"/>
</g>
<circle cx="461.2" cy="316.1" r="1.1" fill="#7CAE00"/>
<circle cx="461.2" cy="351.7" r="1.1" fill="#7CAE00"/>
<g stroke="#00BFC4" stroke-width="1.2" fill="#fff">
<line x1="473.3" x2="473.3" y1="290.5" y2="330.6"/>
<rect x="468" y="293" width="10.6" height="28.9"/>
<line x1="468" x2="478.6" y1="298.6" y2="298.6"/>
</g>
<circle cx="473.3" cy="290.5" r="1.1" fill="#00BFC4"/>
<circle cx="473.3" cy="330.6" r="1.1" fill="#00BFC4"/>
<g stroke="#C77CFF" stroke-width="1.2" fill="#fff">
<line x1="485.7" x2="485.7" y1="285.7" y2="350.8"/>
<rect x="480.4" y="292.5" width="10.6" height="47.3"/>
<line x1="480.4" x2="491" y1="309" y2="309"/>
</g>
<circle cx="485.7" cy="285.7" r="1.1" fill="#C77CFF"/>
<circle cx="485.7" cy="350.8" r="1.1" fill="#C77CFF"/>
<g stroke="#F8766D" stroke-width="1.2" fill="#fff">
<line x1="510.7" x2="510.7" y1="247.2" y2="299.6"/>
<rect x="505.3" y="250.3" width="10.8" height="37.3"/>
<line x1="505.3" x2="516.1" y1="255" y2="255"/>
</g>
<circle cx="510.7" cy="247.2" r="1.1" fill="#F8766D"/>
<circle cx="510.7" cy="299.6" r="1.1" fill="#F8766D"/>
<g stroke="#7CAE00" stroke-width="1.2" fill="#fff">
<line x1="523.3" x2="523.3" y1="247.2" y2="322.1"/>
<rect x="518.1" y="250.3" width="10.4" height="54.2"/>
<line x1="518.1" x2="528.5" y1="255" y2="255"/>
</g>
<circle cx="523.3" cy="247.2" r="1.1" fill="#7CAE00"/>
<circle cx="523.3" cy="322.1" r="1.1" fill="#7CAE00"/>
<g stroke="#00BFC4" stroke-width="1.2" fill="#fff">
<line x1="535.55" x2="535.55" y1="254.7" y2="306.6"/>
<rect x="530.3" y="260.8" width="10.5" height="37.8"/>
<line x1="530.3" x2="540.8" y1="276.2" y2="276.2"/>
</g>
<circle cx="535.55" cy="254.7" r="1.1" fill="#00BFC4"/>
<circle cx="535.55" cy="306.6" r="1.1" fill="#00BFC4"/>
<g stroke="#C77CFF" stroke-width="1.2" fill="#fff">
<line x1="548.15" x2="548.15" y1="255" y2="322.1"/>
<rect x="542.3" y="255.6" width="11.7" height="48.9"/>
<line x1="542.3" x2="554" y1="255" y2="255"/>
</g>
<circle cx="548.15" cy="255" r="1.1" fill="#C77CFF"/>
<circle cx="548.15" cy="322.1" r="1.1" fill="#C77CFF"/>
<g stroke="#F8766D" stroke-width="1.1" fill="#fff">
<line x1="67.75" x2="67.75" y1="544.1" y2="569.5"/>
<rect x="62.65" y="558.05" width="10.2" height="10.6"/>
<line x1="62.65" x2="72.85" y1="566" y2="566"/>
</g>
<circle cx="67.75" cy="544.1" r="1.1" fill="#F8766D"/>
<circle cx="67.75" cy="569.5" r="1.1" fill="#F8766D"/>
<circle cx="67.75" cy="592" r="1.1" fill="#F8766D"/>
<circle cx="67.75" cy="550" r="1.1" fill="#F8766D"/>
<circle cx="67.75" cy="561" r="1.1" fill="#F8766D"/>
<g stroke="#00BA38" stroke-width="1.1" fill="#fff">
<line x1="79.05" x2="79.05" y1="569.5" y2="608.7"/>
<rect x="73.95" y="579.25" width="10.2" height="11.2"/>
<line x1="73.95" x2="84.15" y1="583.3" y2="583.3"/>
</g>
<circle cx="79.05" cy="569.5" r="1.1" fill="#00BA38"/>
<circle cx="79.05" cy="608.7" r="1.1" fill="#00BA38"/>
<circle cx="79.05" cy="582" r="1.1" fill="#00BA38"/>
<g stroke="#619CFF" stroke-width="1.1" fill="#fff">
<line x1="89.8" x2="89.8" y1="555.4" y2="576.6"/>
<rect x="84.85" y="559.45" width="9.9" height="12"/>
<line x1="84.85" x2="94.75" y1="559.6" y2="559.6"/>
</g>
<circle cx="89.8" cy="555.4" r="1.1" fill="#619CFF"/>
<circle cx="89.8" cy="576.6" r="1.1" fill="#619CFF"/>
<g stroke="#F8766D" stroke-width="1.1" fill="#fff">
<line x1="108.85" x2="108.85" y1="534.5" y2="560.3"/>
<rect x="103.55" y="536.85" width="10.6" height="9.8"/>
<line x1="103.55" x2="114.15" y1="543.4" y2="543.4"/>
</g>
<circle cx="108.85" cy="534.5" r="1.1" fill="#F8766D"/>
<circle cx="108.85" cy="560.3" r="1.1" fill="#F8766D"/>
<circle cx="108.85" cy="540" r="1.1" fill="#F8766D"/>
<g stroke="#00BA38" stroke-width="1.1" fill="#fff">
<line x1="120.15" x2="120.15" y1="556.5" y2="612.5"/>
<rect x="115.25" y="576.35" width="9.8" height="27.9"/>
<line x1="115.25" x2="125.05" y1="592.1" y2="592.1"/>
</g>
<circle cx="120.15" cy="556.5" r="1.1" fill="#00BA38"/>
<circle cx="120.15" cy="612.5" r="1.1" fill="#00BA38"/>
<circle cx="120.15" cy="582" r="1.1" fill="#00BA38"/>
<circle cx="120.15" cy="598" r="1.1" fill="#00BA38"/>
<g stroke="#619CFF" stroke-width="1.1" fill="#fff">
<line x1="131.25" x2="131.25" y1="534.9" y2="558.2"/>
<rect x="126.15" y="537.85" width="10.2" height="9.2"/>
<line x1="126.15" x2="136.35" y1="546.2" y2="546.2"/>
</g>
<circle cx="131.25" cy="534.9" r="1.1" fill="#619CFF"/>
<circle cx="131.25" cy="558.2" r="1.1" fill="#619CFF"/>
<circle cx="131.25" cy="542" r="1.1" fill="#619CFF"/>
<g stroke="#F8766D" stroke-width="1.1" fill="#fff">
<line x1="150.7" x2="150.7" y1="478.8" y2="509.8"/>
<rect x="145.75" y="485.25" width="9.9" height="23.4"/>
<line x1="145.75" x2="155.65" y1="503.8" y2="503.8"/>
</g>
<circle cx="150.7" cy="478.8" r="1.1" fill="#F8766D"/>
<circle cx="150.7" cy="509.8" r="1.1" fill="#F8766D"/>
<circle cx="150.7" cy="500" r="1.1" fill="#F8766D"/>
<g stroke="#00BA38" stroke-width="1.1" fill="#fff">
<line x1="161.95" x2="161.95" y1="518.5" y2="531.2"/>
<rect x="156.75" y="520.85" width="10.4" height="7.3"/>
<line x1="156.75" x2="167.15" y1="524.5" y2="524.5"/>
</g>
<circle cx="161.95" cy="518.5" r="1.1" fill="#00BA38"/>
<circle cx="161.95" cy="531.2" r="1.1" fill="#00BA38"/>
<g stroke="#619CFF" stroke-width="1.1" fill="#fff">
<line x1="173" x2="173" y1="482.5" y2="517.7"/>
<rect x="167.85" y="487.25" width="10.3" height="23.9"/>
<line x1="167.85" x2="178.15" y1="511" y2="511"/>
</g>
<circle cx="173" cy="482.5" r="1.1" fill="#619CFF"/>
<circle cx="173" cy="517.7" r="1.1" fill="#619CFF"/>
<g stroke="#F8766D" stroke-width="1.1" fill="#fff">
<line x1="194.65" x2="194.65" y1="590.3" y2="608.1"/>
<rect x="186.85" y="594.65" width="15.6" height="10"/>
<line x1="186.85" x2="202.45" y1="600.5" y2="600.5"/>
</g>
<circle cx="194.65" cy="590.3" r="1.1" fill="#F8766D"/>
<circle cx="194.65" cy="608.1" r="1.1" fill="#F8766D"/>
<g stroke="#619CFF" stroke-width="1.1" fill="#fff">
<line x1="211.6" x2="211.6" y1="588.7" y2="603"/>
<rect x="204.05" y="592.75" width="15.1" height="5.3"/>
<line x1="204.05" x2="219.15" y1="595.4" y2="595.4"/>
</g>
<circle cx="211.6" cy="588.7" r="1.1" fill="#619CFF"/>
<circle cx="211.6" cy="603" r="1.1" fill="#619CFF"/>
<g stroke="#F8766D" stroke-width="1.1" fill="#fbb3ae">
<line x1="236.2" x2="236.2" y1="573.1" y2="580.6"/>
<rect x="228.65" y="575.65" width="15.1" height="2.8"/>
<line x1="228.65" x2="243.75" y1="577" y2="577"/>
</g>
<circle cx="236.2" cy="573.1" r="1.1" fill="#F8766D"/>
<circle cx="236.2" cy="580.6" r="1.1" fill="#F8766D"/>
<g stroke="#619CFF" stroke-width="1.1" fill="#fff">
<line x1="253.2" x2="253.2" y1="568.2" y2="581"/>
<rect x="245.65" y="570.15" width="15.1" height="5.3"/>
<line x1="245.65" x2="260.75" y1="573.5" y2="573.5"/>
</g>
<circle cx="253.2" cy="568.2" r="1.1" fill="#619CFF"/>
<circle cx="253.2" cy="581" r="1.1" fill="#619CFF"/>
<g stroke="#F8766D" stroke-width="1.1" fill="#fff">
<line x1="364.8" x2="364.8" y1="571.1" y2="598.1"/>
<rect x="359.55" y="572.95" width="10.5" height="10.8"/>
<line x1="359.55" x2="370.05" y1="580" y2="580"/>
</g>
<circle cx="364.8" cy="571.1" r="1.1" fill="#F8766D"/>
<circle cx="364.8" cy="598.1" r="1.1" fill="#F8766D"/>
<circle cx="364.8" cy="543.5" r="1.1" fill="#F8766D"/>
<circle cx="364.8" cy="545.4" r="1.1" fill="#F8766D"/>
<g stroke="#00BA38" stroke-width="1.1" fill="#fff">
<line x1="375.65" x2="375.65" y1="585.9" y2="594.3"/>
<rect x="370.65" y="586.45" width="10" height="7.3"/>
<line x1="370.65" x2="380.65" y1="586.3" y2="586.3"/>
</g>
<circle cx="375.65" cy="585.9" r="1.1" fill="#00BA38"/>
<circle cx="375.65" cy="594.3" r="1.1" fill="#00BA38"/>
<circle cx="375.65" cy="611.3" r="1.1" fill="#00BA38"/>
<g stroke="#619CFF" stroke-width="1.1" fill="#fff">
<line x1="387" x2="387" y1="540.6" y2="559.4"/>
<rect x="382.25" y="545.65" width="9.5" height="13.2"/>
<line x1="382.25" x2="391.75" y1="547.3" y2="547.3"/>
</g>
<circle cx="387" cy="540.6" r="1.1" fill="#619CFF"/>
<circle cx="387" cy="559.4" r="1.1" fill="#619CFF"/>
<circle cx="387" cy="589.8" r="1.1" fill="#619CFF"/>
<g stroke="#F8766D" stroke-width="1.1" fill="#fff">
<line x1="406.25" x2="406.25" y1="519" y2="556.8"/>
<rect x="401.25" y="531.95" width="10" height="16.9"/>
<line x1="401.25" x2="411.25" y1="544.1" y2="544.1"/>
</g>
<circle cx="406.25" cy="519" r="1.1" fill="#F8766D"/>
<circle cx="406.25" cy="556.8" r="1.1" fill="#F8766D"/>
<circle cx="406.25" cy="540" r="1.1" fill="#F8766D"/>
<g stroke="#00BA38" stroke-width="1.1" fill="#fff">
<line x1="417.35" x2="417.35" y1="563.2" y2="584.3"/>
<rect x="412.35" y="573.75" width="10" height="10"/>
<line x1="412.35" x2="422.35" y1="580.3" y2="580.3"/>
</g>
<circle cx="417.35" cy="563.2" r="1.1" fill="#00BA38"/>
<circle cx="417.35" cy="584.3" r="1.1" fill="#00BA38"/>
<circle cx="417.35" cy="576" r="1.1" fill="#00BA38"/>
<g stroke="#619CFF" stroke-width="1.1" fill="#fff">
<line x1="428.45" x2="428.45" y1="523.5" y2="564.1"/>
<rect x="423.85" y="538.85" width="9.2" height="15.8"/>
<line x1="423.85" x2="433.05" y1="545.7" y2="545.7"/>
</g>
<circle cx="428.45" cy="523.5" r="1.1" fill="#619CFF"/>
<circle cx="428.45" cy="564.1" r="1.1" fill="#619CFF"/>
<circle cx="428.45" cy="548" r="1.1" fill="#619CFF"/>
<circle cx="428.45" cy="540" r="1.1" fill="#619CFF"/>
<g stroke="#F8766D" stroke-width="1.1" fill="#fff">
<line x1="447.9" x2="447.9" y1="480.5" y2="501.3"/>
<rect x="442.65" y="481.05" width="10.5" height="7.8"/>
<line x1="442.65" x2="453.15" y1="481.3" y2="481.3"/>
</g>
<circle cx="447.9" cy="480.5" r="1.1" fill="#F8766D"/>
<circle cx="447.9" cy="501.3" r="1.1" fill="#F8766D"/>
<circle cx="447.9" cy="484" r="1.1" fill="#F8766D"/>
<g stroke="#00BA38" stroke-width="1.1" fill="#fff">
<line x1="458.8" x2="458.8" y1="532.6" y2="555.4"/>
<rect x="453.85" y="538.95" width="9.9" height="15.9"/>
<line x1="453.85" x2="463.75" y1="548.1" y2="548.1"/>
</g>
<circle cx="458.8" cy="532.6" r="1.1" fill="#00BA38"/>
<circle cx="458.8" cy="555.4" r="1.1" fill="#00BA38"/>
<circle cx="458.8" cy="540.2" r="1.1" fill="#00BA38"/>
<g stroke="#619CFF" stroke-width="1.1" fill="#a8c8ff">
<line x1="469.9" x2="469.9" y1="483.7" y2="492.3"/>
<rect x="464.95" y="488.65" width="9.9" height="3.1"/>
<line x1="464.95" x2="474.85" y1="490" y2="490"/>
</g>
<circle cx="469.9" cy="483.7" r="1.1" fill="#619CFF"/>
<circle cx="469.9" cy="492.3" r="1.1" fill="#619CFF"/>
<circle cx="469.9" cy="479.7" r="1.1" fill="#619CFF"/>
<circle cx="469.9" cy="497.8" r="1.1" fill="#619CFF"/>
<circle cx="469.9" cy="509.7" r="1.1" fill="#619CFF"/>
<g stroke="#F8766D" stroke-width="1.1" fill="#fff">
<line x1="492.3" x2="492.3" y1="591.8" y2="617.9"/>
<rect x="484.85" y="596.35" width="14.9" height="18.4"/>
<line x1="484.85" x2="499.75" y1="606.1" y2="606.1"/>
</g>
<circle cx="492.3" cy="591.8" r="1.1" fill="#F8766D"/>
<circle cx="492.3" cy="617.9" r="1.1" fill="#F8766D"/>
<g stroke="#619CFF" stroke-width="1.1" fill="#fff">
<line x1="508.6" x2="508.6" y1="583.8" y2="615.3"/>
<rect x="501.25" y="592.05" width="14.7" height="15.5"/>
<line x1="501.25" x2="515.95" y1="599.9" y2="599.9"/>
</g>
<circle cx="508.6" cy="583.8" r="1.1" fill="#619CFF"/>
<circle cx="508.6" cy="615.3" r="1.1" fill="#619CFF"/>
<circle cx="508.6" cy="593" r="1.1" fill="#619CFF"/>
<g stroke="#F8766D" stroke-width="1.1" fill="#fff">
<line x1="533.55" x2="533.55" y1="593.8" y2="618.3"/>
<rect x="526.25" y="600.05" width="14.6" height="13.9"/>
<line x1="526.25" x2="540.85" y1="607.1" y2="607.1"/>
</g>
<circle cx="533.55" cy="593.8" r="1.1" fill="#F8766D"/>
<circle cx="533.55" cy="618.3" r="1.1" fill="#F8766D"/>
<g stroke="#619CFF" stroke-width="1.1" fill="#fff">
<line x1="550.2" x2="550.2" y1="609.1" y2="617.3"/>
<rect x="542.65" y="611.25" width="15.1" height="5.5"/>
<line x1="542.65" x2="557.75" y1="613.7" y2="613.7"/>
</g>
<circle cx="550.2" cy="609.1" r="1.1" fill="#619CFF"/>
<circle cx="550.2" cy="617.3" r="1.1" fill="#619CFF"/>
<text x="79.9" y="18.3" class="ttl">train CV</text>
<text x="376.3" y="17.8" class="ttl">test</text>
<text x="80.5" y="241.2" class="ttl">train CV</text>
<text x="376.8" y="240.7" class="ttl">test</text>
<text x="61.2" y="472.6" class="ttl">train CV</text>
<text x="360.0" y="471.4" class="ttl">test</text>
<text x="4.6" y="17.6" class="let">a</text>
<text x="316.3" y="16.0" class="let">b</text>
<text x="4.8" y="239.0" class="let">c</text>
<text x="315.6" y="236.7" class="let">d</text>
<text x="4.6" y="471.6" class="let">e</text>
<text x="314.6" y="469.1" class="let">f</text>
<text transform="translate(16.4 106.25) rotate(-90)" class="row" text-anchor="middle">498</text>
<text transform="translate(16.4 325.9) rotate(-90)" class="row" text-anchor="middle">145</text>
<text transform="translate(16.4 566) rotate(-90)" class="row" text-anchor="middle">145 and 498</text>
<text transform="translate(41.8 96.6) rotate(-90)" class="yt">MCC_cv</text>
<text transform="translate(337.8 94.9) rotate(-90)" class="yt">MCC_val</text>
<text transform="translate(42.8 318.7) rotate(-90)" class="yt">MCC_cv</text>
<text transform="translate(338.2 318.7) rotate(-90)" class="yt">MCC_val</text>
<text transform="translate(30.4 551) rotate(-90)" class="yt2">MCC_cv</text>
<text transform="translate(326.6 551.9) rotate(-90)" class="yt2">MCC_val</text>
<text x="283.3" y="159.7" class="lgt">CLASSIFIER</text>
<g stroke="#F8766D" stroke-width="1.0" fill="#fff" opacity="0.8">
<line x1="289.5" x2="289.5" y1="161.6" y2="170"/>
<rect x="285.6" y="162.8" width="7.8" height="6"/>
<line x1="285.6" x2="293.4" y1="165.8" y2="165.8"/>
</g>
<text x="296.4" y="169" class="lgx">RF</text>
<g stroke="#7CAE00" stroke-width="1.0" fill="#fff" opacity="0.8">
<line x1="289.5" x2="289.5" y1="172" y2="180.4"/>
<rect x="285.6" y="173.2" width="7.8" height="6"/>
<line x1="285.6" x2="293.4" y1="176.2" y2="176.2"/>
</g>
<text x="296.4" y="179.4" class="lgx">RF_KBest</text>
<g stroke="#00BFC4" stroke-width="1.0" fill="#fff" opacity="0.8">
<line x1="289.5" x2="289.5" y1="181.9" y2="190.3"/>
<rect x="285.6" y="183.1" width="7.8" height="6"/>
<line x1="285.6" x2="293.4" y1="186.1" y2="186.1"/>
</g>
<text x="296.4" y="189.3" class="lgx">LSVM</text>
<g stroke="#C77CFF" stroke-width="1.0" fill="#fff" opacity="0.8">
<line x1="289.5" x2="289.5" y1="193" y2="201.4"/>
<rect x="285.6" y="194.2" width="7.8" height="6"/>
<line x1="285.6" x2="293.4" y1="197.2" y2="197.2"/>
</g>
<text x="296.4" y="200.4" class="lgx">LSVM_KBest</text>
<text x="280.1" y="381.7" class="lgt">CLASSIFIER</text>
<g stroke="#F8766D" stroke-width="1.0" fill="#fff" opacity="0.8">
<line x1="285.8" x2="285.8" y1="384.2" y2="392.6"/>
<rect x="281.9" y="385.4" width="7.8" height="6"/>
<line x1="281.9" x2="289.7" y1="388.4" y2="388.4"/>
</g>
<text x="293.2" y="391.6" class="lgx">RF</text>
<g stroke="#7CAE00" stroke-width="1.0" fill="#fff" opacity="0.8">
<line x1="285.8" x2="285.8" y1="394.6" y2="403"/>
<rect x="281.9" y="395.8" width="7.8" height="6"/>
<line x1="281.9" x2="289.7" y1="398.8" y2="398.8"/>
</g>
<text x="293.2" y="402" class="lgx">RF_KBest</text>
<g stroke="#00BFC4" stroke-width="1.0" fill="#fff" opacity="0.8">
<line x1="285.8" x2="285.8" y1="404.9" y2="413.3"/>
<rect x="281.9" y="406.1" width="7.8" height="6"/>
<line x1="281.9" x2="289.7" y1="409.1" y2="409.1"/>
</g>
<text x="293.2" y="412.3" class="lgx">LSVM</text>
<g stroke="#C77CFF" stroke-width="1.0" fill="#fff" opacity="0.8">
<line x1="285.8" x2="285.8" y1="415.6" y2="424"/>
<rect x="281.9" y="416.8" width="7.8" height="6"/>
<line x1="281.9" x2="289.7" y1="419.8" y2="419.8"/>
</g>
<text x="293.2" y="423" class="lgx">LSVM_KBest</text>
<text x="279" y="617.5" class="lgt">PLATFORM</text>
<g stroke="#F8766D" stroke-width="1.0" fill="#fff" opacity="0.8">
<line x1="286.4" x2="286.4" y1="621.8" y2="630.2"/>
<rect x="282.5" y="623" width="7.8" height="6"/>
<line x1="282.5" x2="290.3" y1="626" y2="626"/>
</g>
<text x="293.9" y="629.2" class="lgx">AG1-G</text>
<g stroke="#00BA38" stroke-width="1.0" fill="#fff" opacity="0.8">
<line x1="286.4" x2="286.4" y1="634.5" y2="642.9"/>
<rect x="282.5" y="635.7" width="7.8" height="6"/>
<line x1="282.5" x2="290.3" y1="638.7" y2="638.7"/>
</g>
<text x="293.9" y="641.9" class="lgx">CNV-G</text>
<g stroke="#619CFF" stroke-width="1.0" fill="#fff" opacity="0.8">
<line x1="286.4" x2="286.4" y1="646.8" y2="655.2"/>
<rect x="282.5" y="648" width="7.8" height="6"/>
<line x1="282.5" x2="290.3" y1="651" y2="651"/>
</g>
<text x="293.9" y="654.2" class="lgx">MAV-G</text>
</svg></body></html>
